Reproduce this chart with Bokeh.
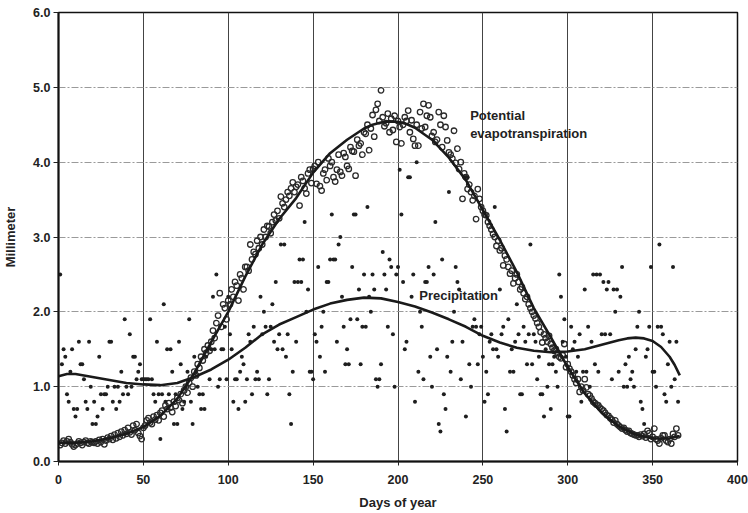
from bokeh.plotting import figure
from bokeh.models import Range1d, FixedTicker, Label, PrintfTickFormatter
from bokeh.embed import file_html
from bokeh.resources import INLINE

# ---------------- data ----------------
days = list(range(1, 366))

pet_mm = [
    0.22, 0.25, 0.28, 0.24, 0.27, 0.30, 0.26, 0.23, 0.20, 0.22,
    0.24, 0.27, 0.25, 0.22, 0.26, 0.28, 0.25, 0.24, 0.27, 0.26,
    0.25, 0.27, 0.24, 0.29, 0.26, 0.30, 0.23, 0.28, 0.32, 0.30,
    0.34, 0.29, 0.36, 0.31, 0.38, 0.33, 0.40, 0.35, 0.42, 0.37,
    0.45, 0.39, 0.36, 0.48, 0.42, 0.50, 0.38, 0.34, 0.30, 0.45,
    0.48, 0.55, 0.58, 0.52, 0.50, 0.60, 0.56, 0.62, 0.55, 0.65,
    0.68, 0.60, 0.75, 0.70, 0.78, 0.72, 0.66, 0.80, 0.74, 0.85,
    0.82, 0.90, 0.78, 0.95, 1.00, 0.92, 1.05, 1.12, 1.00, 1.20,
    1.15, 1.30, 1.25, 1.40, 1.35, 1.50, 1.45, 1.55, 1.48, 1.60,
    1.75, 1.65, 1.85, 1.95, 2.25, 1.80, 2.10, 2.05, 1.90, 2.15,
    2.10, 2.30, 2.20, 2.40, 2.35, 2.15, 2.50, 2.45, 2.30, 2.60,
    2.60, 2.55, 2.90, 2.70, 2.80, 2.77, 2.95, 2.85, 3.00, 2.90,
    3.10, 3.00, 3.15, 3.14, 3.05, 3.20, 3.30, 3.22, 3.35, 3.25,
    3.54, 3.45, 3.40, 3.50, 3.60, 3.55, 3.65, 3.73, 3.60, 3.67,
    3.70, 3.42, 3.80, 3.75, 3.65, 3.58, 3.85, 3.90, 3.72, 3.91,
    3.95, 3.71, 4.00, 3.68, 3.62, 3.85, 3.90, 3.76, 4.05, 3.95,
    4.00, 3.80, 3.74, 3.90, 4.10, 3.87, 3.82, 4.12, 4.07, 3.95,
    3.91, 4.20, 4.15, 4.14, 3.82, 4.30, 4.22, 4.25, 4.10, 4.40,
    4.38, 4.50, 4.16, 4.45, 4.63, 4.34, 4.70, 4.78, 4.55, 4.96,
    4.60, 4.48, 4.52, 4.65, 4.40, 4.58, 4.43, 4.62, 4.27, 4.55,
    4.47, 4.25, 4.50, 4.60, 4.55, 4.69, 4.40, 4.56, 4.31, 4.22,
    4.50, 4.22, 4.67, 4.45, 4.78, 4.47, 4.62, 4.76, 4.60, 4.35,
    4.40, 4.27, 4.30, 4.67, 4.50, 4.20, 4.62, 4.47, 4.29, 4.13,
    4.10, 4.05, 4.42, 3.99, 4.18, 3.91, 4.00, 3.51, 3.85, 3.80,
    3.64, 3.70, 3.60, 3.49, 3.55, 3.24, 3.64, 3.51, 3.40, 3.35,
    3.30, 3.29, 3.20, 3.15, 3.10, 3.04, 3.00, 2.88, 2.95, 2.82,
    2.85, 2.62, 2.75, 2.70, 2.60, 2.51, 2.55, 2.38, 2.45, 2.50,
    2.40, 2.30, 2.33, 2.25, 2.17, 2.20, 2.10, 2.05, 2.00, 1.95,
    1.91, 1.85, 1.80, 1.73, 1.59, 1.70, 1.65, 1.60, 1.68, 1.57,
    1.52, 1.48, 1.50, 1.45, 1.40, 1.38, 1.42, 1.57, 1.26, 1.30,
    1.24, 1.20, 1.15, 1.10, 1.05, 1.10, 0.93, 1.00, 0.95, 1.10,
    0.99, 0.90, 0.88, 0.84, 0.80, 0.78, 0.76, 0.75, 0.72, 0.70,
    0.68, 0.65, 0.62, 0.61, 0.58, 0.56, 0.52, 0.55, 0.50, 0.48,
    0.46, 0.44, 0.45, 0.42, 0.40, 0.41, 0.38, 0.37, 0.36, 0.35,
    0.35, 0.33, 0.36, 0.34, 0.37, 0.32, 0.41, 0.38, 0.30, 0.33,
    0.44, 0.30, 0.28, 0.24, 0.31, 0.35, 0.35, 0.28, 0.26, 0.30,
    0.24, 0.37, 0.33, 0.44, 0.35,
]

precip_mm = [
    2.5, 1.3, 1.5, 1.4, 0.9, 0.8, 1.2, 1.5, 0.7, 0.6,
    0.7, 1.6, 1.3, 1.3, 1.1, 0.8, 0.7, 1.6, 1.0, 0.5,
    0.8, 0.5, 0.6, 1.4, 0.9, 0.7, 0.9, 0.9, 1.0, 1.6,
    1.6, 0.8, 1.0, 0.7, 1.0, 0.8, 1.2, 0.9, 1.9, 1.0,
    0.9, 1.7, 1.0, 1.4, 1.4, 1.1, 1.2, 1.3, 1.1, 1.1,
    1.1, 1.1, 1.1, 1.9, 1.1, 0.9, 0.8, 1.6, 0.9, 0.3,
    0.9, 2.1, 0.8, 1.5, 0.9, 1.5, 1.2, 0.5, 0.9, 0.5,
    1.6, 1.3, 0.7, 0.8, 1.0, 1.2, 1.9, 0.8, 0.5, 1.4,
    1.2, 1.0, 0.9, 0.7, 0.9, 0.7, 1.4, 1.5, 1.1, 1.5,
    2.2, 1.5, 2.5, 1.0, 1.1, 1.5, 1.5, 1.8, 1.1, 2.2,
    1.7, 1.5, 0.8, 1.1, 1.1, 0.7, 1.2, 1.4, 1.3, 0.8,
    1.1, 1.7, 1.6, 0.9, 1.8, 1.1, 1.2, 1.1, 2.2, 1.7,
    2.0, 1.8, 0.9, 1.1, 1.8, 2.1, 1.6, 2.4, 1.5, 1.7,
    2.9, 1.5, 2.9, 1.4, 1.7, 0.9, 0.5, 1.2, 2.4, 1.6,
    2.4, 2.7, 2.4, 2.7, 3.2, 2.0, 2.3, 1.2, 1.2, 1.1,
    1.7, 1.6, 2.6, 1.4, 1.8, 2.0, 1.2, 2.4, 2.4, 2.7,
    3.3, 2.7, 2.7, 1.6, 2.9, 3.0, 2.2, 1.8, 1.3, 1.5,
    1.3, 1.9, 2.6, 3.3, 3.3, 1.9, 2.3, 1.3, 1.8, 2.5,
    1.8, 3.4, 2.2, 2.0, 2.5, 2.3, 1.1, 1.0, 1.1, 1.3,
    2.8, 2.5, 2.3, 1.8, 2.7, 2.6, 1.7, 1.0, 2.5, 2.6,
    3.9, 3.3, 2.4, 1.5, 1.6, 3.8, 3.8, 2.2, 2.5, 0.8,
    4.0, 1.2, 2.0, 1.8, 1.1, 2.4, 2.4, 2.6, 1.4, 1.0,
    2.5, 3.2, 1.5, 0.5, 0.4, 2.7, 0.9, 0.7, 1.4, 3.6,
    1.2, 1.6, 2.0, 2.6, 2.4, 2.3, 1.1, 1.6, 3.8, 0.6,
    3.8, 1.3, 1.0, 1.8, 1.9, 1.8, 1.3, 1.7, 1.8, 1.4,
    0.8, 1.2, 0.9, 1.6, 1.7, 1.5, 3.4, 1.5, 1.4, 2.3,
    1.7, 1.8, 0.7, 0.4, 1.9, 1.2, 1.5, 1.2, 1.6, 2.1,
    1.7, 0.9, 0.9, 1.8, 1.6, 1.3, 1.7, 2.9, 1.3, 1.7,
    1.6, 1.1, 1.4, 0.9, 0.9, 0.6, 1.5, 1.0, 1.3, 0.7,
    1.3, 1.4, 1.2, 1.0, 2.5, 2.2, 1.6, 1.9, 1.4, 0.6,
    0.6, 1.8, 1.5, 1.6, 1.2, 1.4, 1.7, 0.8, 1.2, 2.3,
    1.2, 1.8, 1.0, 1.6, 2.5, 1.3, 2.5, 1.2, 2.5, 1.7,
    2.4, 1.7, 2.3, 2.4, 1.7, 1.1, 2.3, 2.0, 2.3, 1.2,
    2.2, 2.6, 1.0, 1.3, 1.0, 1.4, 1.1, 1.2, 1.0, 1.5,
    1.8, 2.0, 0.8, 0.7, 0.5, 1.4, 1.5, 1.8, 2.6, 1.2,
    1.2, 1.0, 1.8, 2.9, 1.8, 1.7, 0.9, 0.8, 1.3, 1.6,
    1.0, 2.6, 1.1, 1.6, 0.8,
]

# smoothed trend lines
pet_fit_days = [0, 10, 20, 30, 40, 50, 60, 70, 80, 90, 100, 110, 120, 130, 140,
                150, 160, 170, 180, 185, 190, 195, 200, 205, 210, 220, 230, 240,
                250, 260, 270, 280, 290, 300, 310, 320, 330, 340, 345, 350, 355,
                360, 366]
pet_fit = [0.25, 0.25, 0.27, 0.31, 0.37, 0.46, 0.61, 0.84, 1.18, 1.60, 2.00, 2.47,
           2.90, 3.24, 3.52, 3.86, 4.12, 4.30, 4.45, 4.50, 4.53, 4.545, 4.54, 4.51,
           4.46, 4.30, 4.06, 3.76, 3.36, 2.96, 2.53, 2.05, 1.66, 1.26, 0.91, 0.65,
           0.47, 0.36, 0.33, 0.31, 0.305, 0.31, 0.34]

precip_fit_days = [0, 5, 10, 20, 30, 40, 50, 60, 70, 80, 90, 100, 110, 120, 130,
                   140, 150, 160, 170, 180, 190, 200, 210, 220, 230, 240, 250, 260,
                   270, 280, 290, 300, 310, 320, 330, 335, 340, 345, 350, 355, 360,
                   363, 366]
precip_fit = [1.14, 1.17, 1.17, 1.13, 1.09, 1.05, 1.03, 1.02, 1.05, 1.13, 1.23, 1.36,
              1.52, 1.70, 1.83, 1.93, 2.03, 2.11, 2.16, 2.19, 2.18, 2.13, 2.07, 1.99,
              1.90, 1.80, 1.68, 1.59, 1.52, 1.48, 1.46, 1.47, 1.50, 1.56, 1.62, 1.645,
              1.655, 1.645, 1.61, 1.53, 1.40, 1.29, 1.15]

x_ticks = [0, 50, 100, 150, 200, 250, 300, 350, 400]
y_ticks = [0, 1, 2, 3, 4, 5, 6]

# ---------------- figure ----------------
FONT = "Liberation Sans"
INK = "#222222"

p = figure(width=748, height=513, output_backend="svg", toolbar_location=None,
           x_range=Range1d(0, 400), y_range=Range1d(0, 6),
           min_border_left=57, min_border_right=11,
           min_border_top=12, min_border_bottom=52)

p.background_fill_color = "white"
p.border_fill_color = "white"
p.outline_line_color = "#111111"
p.outline_line_width = 1.5

# grid
p.xgrid.ticker = FixedTicker(ticks=x_ticks)
p.xgrid.grid_line_color = "#444444"
p.xgrid.grid_line_width = 1
p.ygrid.ticker = FixedTicker(ticks=y_ticks)
p.ygrid.grid_line_color = "#9a9a9a"
p.ygrid.grid_line_width = 1
p.ygrid.grid_line_dash = "7 2 2 2"

# axes
for ax in (p.xaxis[0], p.yaxis[0]):
    ax.axis_line_color = "#111111"
    ax.axis_line_width = 2
    ax.major_tick_line_color = "#222222"
    ax.major_tick_in = 0
    ax.minor_tick_line_color = None
    ax.major_label_text_font = FONT
    ax.major_label_text_font_style = "bold"
    ax.major_label_text_font_size = "12.5px"
    ax.major_label_text_color = INK
    ax.axis_label_text_font = FONT
    ax.axis_label_text_font_style = "bold"
    ax.axis_label_text_font_size = "13px"
    ax.axis_label_text_color = INK

p.xaxis.ticker = FixedTicker(ticks=x_ticks)
p.xaxis.major_tick_out = 4
p.xaxis.major_label_standoff = 9
p.xaxis.axis_label = "Days of year"
p.xaxis.axis_label_standoff = 8

p.yaxis.ticker = FixedTicker(ticks=y_ticks)
p.yaxis.formatter = PrintfTickFormatter(format="%.1f")
p.yaxis.major_tick_out = 5
p.yaxis.major_label_standoff = 3
p.yaxis.axis_label = "Millimeter"
p.yaxis.axis_label_standoff = 12

# scatter points
p.scatter(days, pet_mm, marker="circle", size=5.5, fill_color="white",
          fill_alpha=0.0, line_color="#2a2a2a", line_width=1.3)
p.scatter(days, precip_mm, marker="circle", size=4, fill_color="#1e1e1e",
          line_color=None)

# trend lines
p.line(pet_fit_days, pet_fit, line_color="#1a1a1a", line_width=2.6, line_join="round")
p.line(precip_fit_days, precip_fit, line_color="#1a1a1a", line_width=2.6, line_join="round")

# annotations
for txt, xx, yy in (("Potential", 242.5, 4.63), ("evapotranspiration", 242.5, 4.385),
                    ("Precipitation", 212.5, 2.22)):
    p.add_layout(Label(x=xx, y=yy, text=txt, text_font=FONT, text_font_style="bold",
                       text_font_size="13px", text_color=INK, text_baseline="middle",
                       text_align="left"))

open("out.html", "w").write(file_html(p, INLINE))
